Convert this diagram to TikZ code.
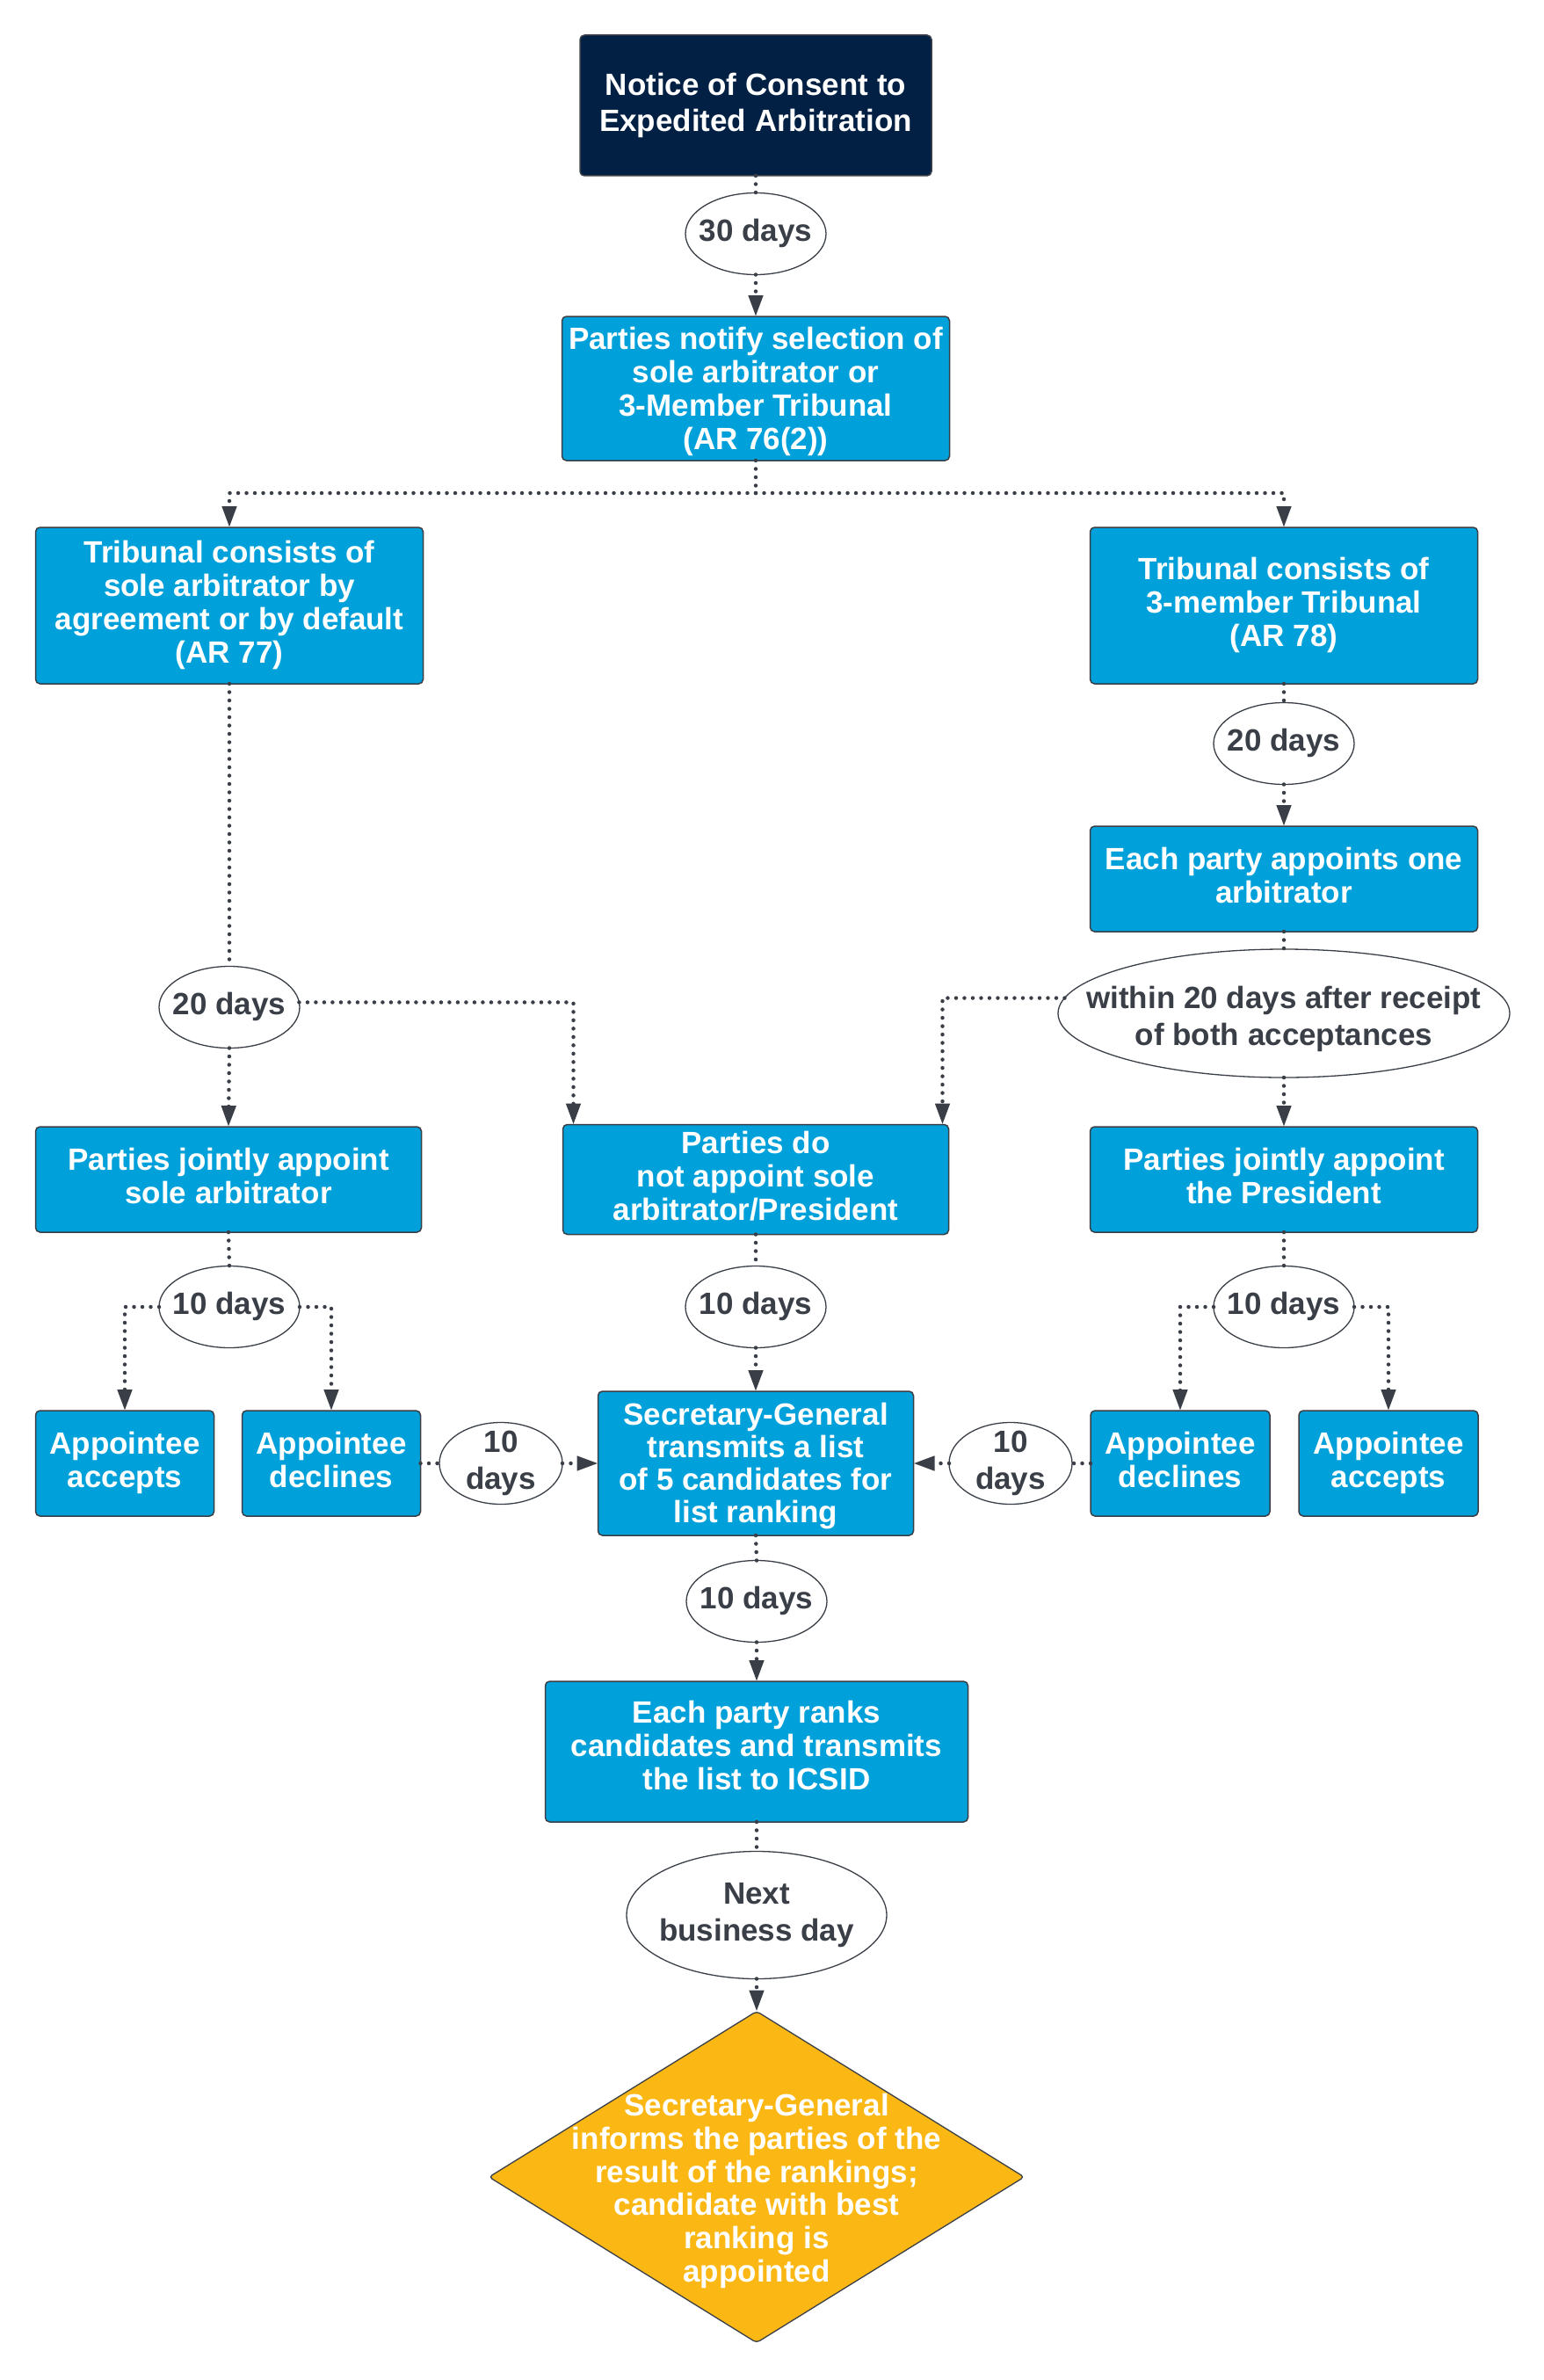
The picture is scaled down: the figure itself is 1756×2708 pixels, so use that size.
\documentclass[tikz,border=0pt]{standalone}
\usepackage{fontspec}
\setmainfont{Liberation Sans}
\usetikzlibrary{shapes.geometric,arrows.meta,calc}
\definecolor{navy}{HTML}{022044}
\definecolor{boxblue}{HTML}{00A1DA}
\definecolor{gold}{HTML}{FBB815}
\definecolor{ink}{HTML}{3A3F47}
\newcommand{\toplift}[1]{\rule{0pt}{#1}}
\begin{document}
\begin{tikzpicture}[x=1pt,y=-1pt,
  every node/.style={font=\bfseries\fontsize{35}{38}\selectfont, align=center, inner sep=0pt, outer sep=0pt},
  deep/.style={execute at end node={\rule[-8pt]{0pt}{8pt}}},
  deeper/.style={execute at end node={\rule[-14pt]{0pt}{14pt}}},
  bluebox/.style={rectangle, rounded corners=5pt, draw=ink, line width=1.5pt, fill=boxblue, text=white, deep},
  navybox/.style={rectangle, rounded corners=5pt, draw=ink, line width=1.5pt, fill=navy, text=white, deep, font=\bfseries\fontsize{35}{41}\selectfont},
  oval/.style={ellipse, draw=ink, line width=1.3pt, fill=white, text=ink, inner xsep=-60pt, inner ysep=-30pt, deep, font=\bfseries\fontsize{35}{42}\selectfont},
  conn/.style={draw=ink, line width=4.5pt, dash pattern=on 0pt off 9.5pt, line cap=round},
  arr/.style={conn, -{Triangle[length=24pt,width=16pt]}},
]
\fill[white] (0,0) rectangle (1756,2708);
\useasboundingbox (0,0) rectangle (1756,2708);

% nodes
\node[navybox, minimum width=400pt, minimum height=160pt] (notice) at (860,120) {Notice of Consent to\\Expedited Arbitration};
\node[oval, minimum width=160pt, minimum height=93pt] (d30) at (860,266) {30 days};
\node[bluebox, minimum width=441pt, minimum height=164pt] (notify) at (860,442) {\toplift{33.5pt}Parties notify selection of\\sole arbitrator or\\3-Member Tribunal\\(AR 76(2))};

\node[bluebox, minimum width=441pt, minimum height=178pt] (trisole) at (261,689) {Tribunal consists of\\sole arbitrator by\\agreement or by default\\(AR 77)};
\node[bluebox, minimum width=441pt, minimum height=178pt] (trithree) at (1461,689) {Tribunal consists of\\3-member Tribunal\\(AR 78)};

\node[oval, minimum width=160pt, minimum height=93pt] (d20R) at (1461,846) {20 days};
\node[bluebox, minimum width=441pt, minimum height=120pt] (each1) at (1461,1000) {Each party appoints one\\arbitrator};
\node[oval, minimum width=514pt, minimum height=146pt] (within) at (1461,1153) {\toplift{38pt}within 20 days after receipt\\of both acceptances};

\node[oval, minimum width=160pt, minimum height=93pt] (d20L) at (261,1146) {20 days};

\node[bluebox, minimum width=439pt, minimum height=120pt] (jsole) at (260,1342) {Parties jointly appoint\\sole arbitrator};
\node[bluebox, minimum width=439pt, minimum height=125pt] (notappoint) at (860,1342) {Parties do\\not appoint sole\\arbitrator/President};
\node[bluebox, minimum width=441pt, minimum height=120pt] (jpres) at (1461,1342) {Parties jointly appoint\\the President};

\node[oval, minimum width=160pt, minimum height=93pt] (d10L) at (261,1487) {10 days};
\node[oval, minimum width=160pt, minimum height=93pt] (d10M) at (860,1487) {10 days};
\node[oval, minimum width=160pt, minimum height=93pt] (d10R) at (1461,1487) {10 days};

\node[bluebox, minimum width=203pt, minimum height=120pt] (accL) at (142,1665) {Appointee\\accepts};
\node[bluebox, minimum width=203pt, minimum height=120pt] (decL) at (377,1665) {Appointee\\declines};
\node[oval, minimum width=140pt, minimum height=93pt] (h10L) at (570,1665) {10\\days};
\node[bluebox, minimum width=359pt, minimum height=164pt, font=\bfseries\fontsize{35}{37}\selectfont] (sg) at (860,1665) {\toplift{31.5pt}Secretary-General\\transmits a list\\of 5 candidates for\\list ranking};
\node[oval, minimum width=140pt, minimum height=93pt] (h10R) at (1150,1665) {10\\days};
\node[bluebox, minimum width=204pt, minimum height=120pt] (decR) at (1343,1665) {Appointee\\declines};
\node[bluebox, minimum width=204pt, minimum height=120pt] (accR) at (1580,1665) {Appointee\\accepts};

\node[oval, minimum width=160pt, minimum height=93pt] (d10B) at (861,1822) {10 days};
\node[bluebox, deeper, minimum width=481pt, minimum height=160pt] (ranks) at (861,1993) {Each party ranks\\candidates and transmits\\the list to ICSID};
\node[oval, minimum width=296pt, minimum height=145pt] (nbd) at (861,2179) {Next\\business day};

\node[diamond, draw=ink, line width=1.3pt, fill=gold, rounded corners=4pt, minimum width=609pt, minimum height=377pt] (final) at (861,2477) {};
\node[text=white, font=\bfseries\fontsize{35}{37.7}\selectfont] (finaltext) at (861,2493) {Secretary-General\\informs the parties of the\\result of the rankings;\\candidate with best\\ranking is\\appointed};

% connectors
\draw[conn] (notice.south) -- (d30.north);
\draw[arr] (d30.south) -- (notify.north);
\coordinate (split) at (860,561);
\draw[conn] (notify.south) -- (split);
\draw[arr] (split) -| (trisole.north);
\draw[arr] (split) -| (trithree.north);

\draw[conn] (trisole.south) -- (d20L.north);
\draw[arr] (d20L.south) -- (jsole.north);
\draw[arr] (d20L.4) -| ([xshift=12pt]notappoint.north west);

\draw[conn] (trithree.south) -- (d20R.north);
\draw[arr] (d20R.south) -- (each1.north);
\draw[conn] (each1.south) -- (within.north);
\draw[arr] (within.south) -- (jpres.north);
\draw[arr] (within.176.8) -| ([xshift=-7pt]notappoint.north east);

\draw[conn] (jsole.south) -- (d10L.north);
\draw[arr] (d10L.west) -| (accL.north);
\draw[arr] (d10L.east) -| (decL.north);

\draw[conn] (notappoint.south) -- (d10M.north);
\draw[arr] (d10M.south) -- (sg.north);

\draw[conn] (jpres.south) -- (d10R.north);
\draw[arr] (d10R.west) -| (decR.north);
\draw[arr] (d10R.east) -| (accR.north);

\draw[conn] (decL.east) -- (h10L.west);
\draw[arr] (h10L.east) -- (sg.west);
\draw[conn] (decR.west) -- (h10R.east);
\draw[arr] (h10R.west) -- (sg.east);

\draw[conn] (sg.south) -- (d10B.north);
\draw[arr] (d10B.south) -- (ranks.north);
\draw[conn] (ranks.south) -- (nbd.north);
\draw[arr] (nbd.south) -- (final.north);
\end{tikzpicture}
\end{document}
